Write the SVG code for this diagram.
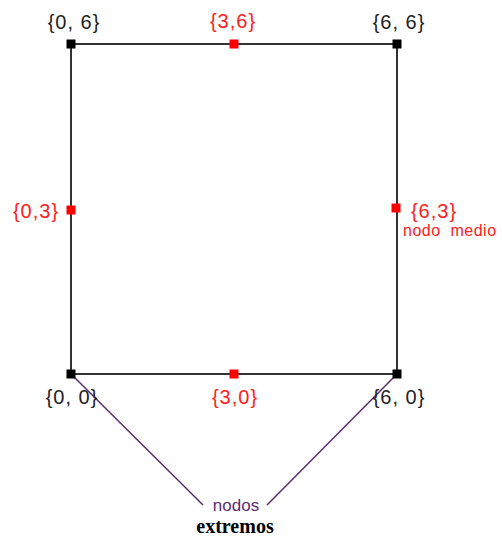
<svg xmlns="http://www.w3.org/2000/svg" width="502" height="540" viewBox="0 0 502 540">
<style>
.edge{stroke:#333;stroke-width:2;fill:none}
.lead{stroke:#5b2c6f;stroke-width:1.5;fill:none}
.blk{fill:#000}
.red{fill:#ff0000}
.lbl{font-family:"Liberation Sans",Arial,sans-serif;font-size:20px;text-anchor:middle;letter-spacing:1px}
.lk{fill:#222}
.lr{fill:#ff2020}
</style>
<rect width="502" height="540" fill="#fff"/>
<g id="connectors">
<line class="edge" x1="71" y1="44" x2="397" y2="44"/>
<line class="edge" x1="71" y1="374" x2="397" y2="374"/>
<line class="edge" x1="71" y1="44" x2="71" y2="374"/>
<line class="edge" x1="397" y1="44" x2="397" y2="374"/>
<line class="lead" x1="71" y1="374" x2="203" y2="505"/>
<line class="lead" x1="397" y1="374" x2="267" y2="505"/>
</g>
<g id="n06"><rect class="blk" x="66.5" y="39.5" width="9" height="9"/><text class="lbl lk" x="74" y="29">{0, 6}</text></g>
<g id="n36"><rect class="red" x="229.5" y="39.5" width="9" height="9"/><text class="lbl lr" x="233" y="28">{3,6}</text></g>
<g id="n66"><rect class="blk" x="392.5" y="39.5" width="9" height="9"/><text class="lbl lk" x="399" y="29">{6, 6}</text></g>
<g id="n03"><rect class="red" x="66.5" y="205.5" width="9" height="9"/><text class="lbl lr" x="36" y="218">{0,3}</text></g>
<g id="n63"><rect class="red" x="391.5" y="203.5" width="9" height="9"/><text class="lbl lr" x="434" y="218">{6,3}</text><text x="403" y="236" font-family="Liberation Sans,Arial,sans-serif" font-size="16" fill="#ff2020" letter-spacing="0.5" xml:space="preserve">nodo  medio</text></g>
<g id="n00"><rect class="blk" x="66.5" y="369.5" width="9" height="9"/><text class="lbl lk" x="72" y="404">{0, 0}</text></g>
<g id="n30"><rect class="red" x="229.5" y="369.5" width="9" height="9"/><text class="lbl lr" x="235" y="404">{3,0}</text></g>
<g id="n60"><rect class="blk" x="392.5" y="369.5" width="9" height="9"/><text class="lbl lk" x="399" y="404">{6, 0}</text></g>
<g id="legend">
<text x="236" y="511" font-family="Liberation Sans,Arial,sans-serif" font-size="17" fill="#5b2c6f" text-anchor="middle">nodos</text>
<text x="235" y="533" font-family="Liberation Serif,Times New Roman,serif" font-size="20" font-weight="bold" fill="#000" text-anchor="middle">extremos</text>
</g>
</svg>
